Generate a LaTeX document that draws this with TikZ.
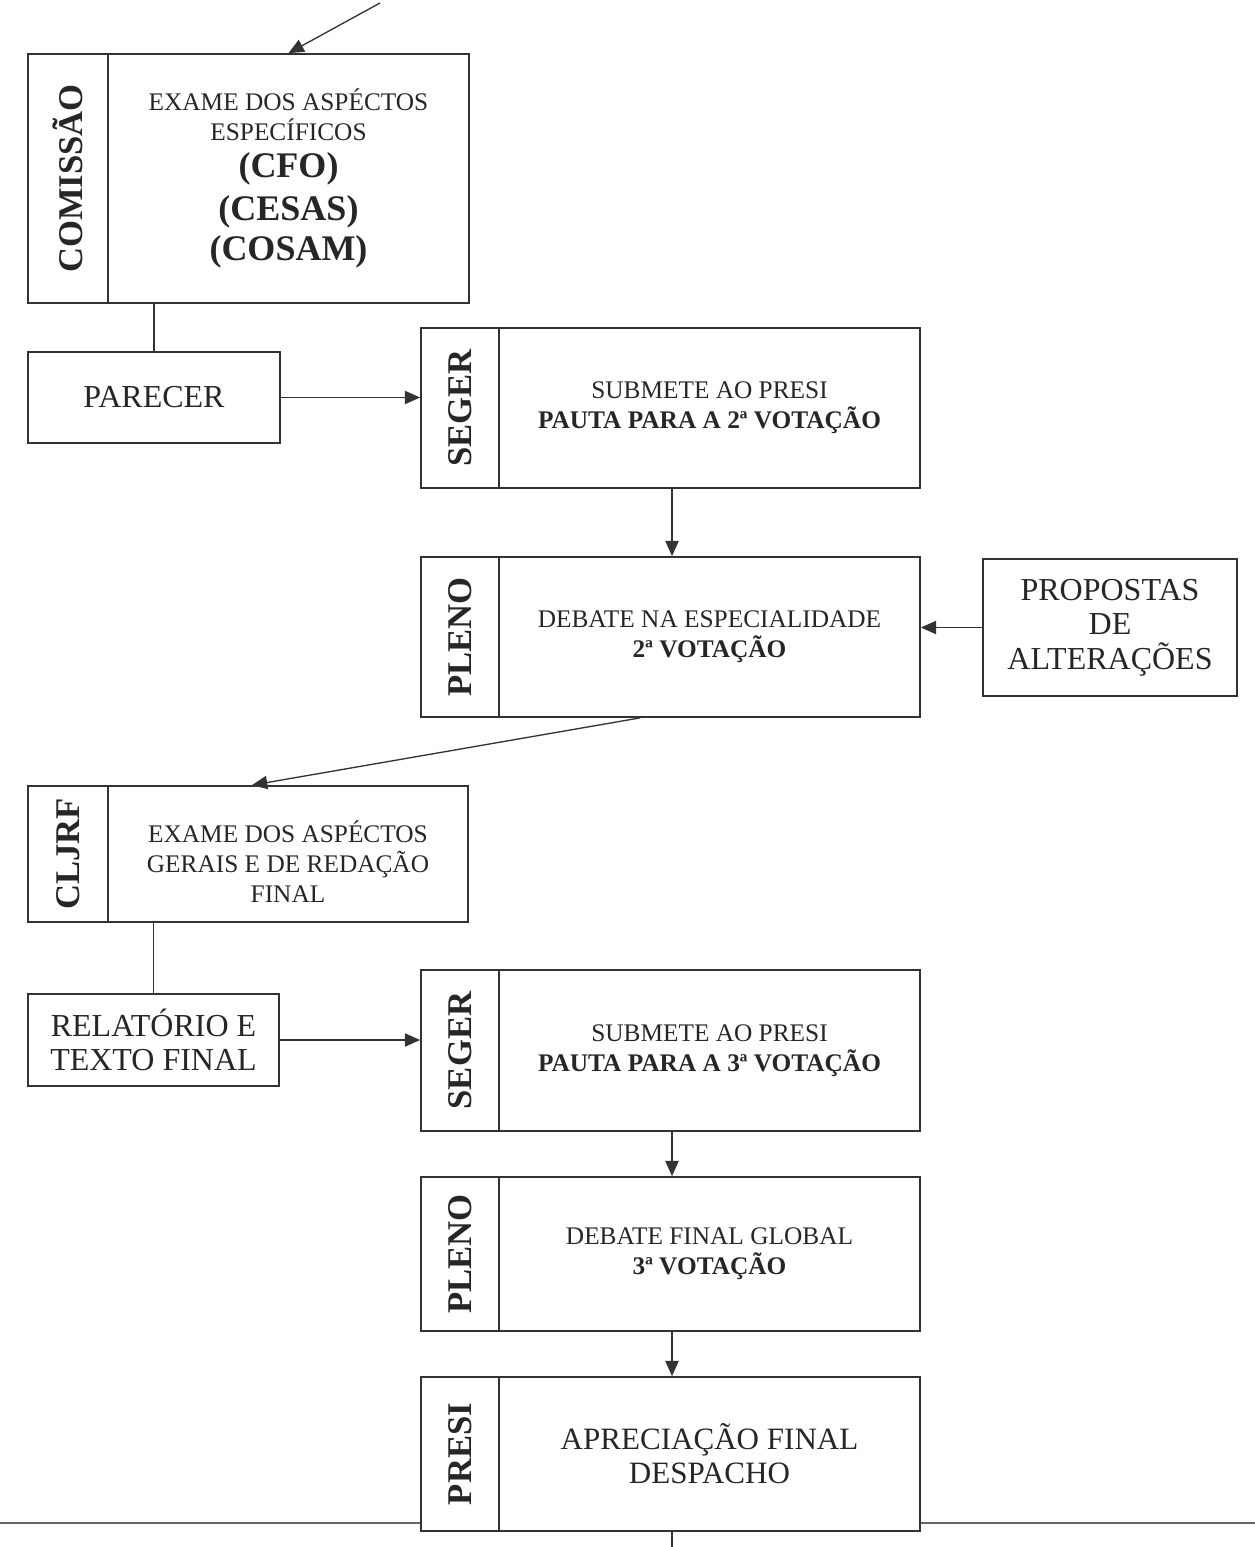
\documentclass[tikz,border=0pt]{standalone}
\usepackage{fontspec}
\setmainfont{Liberation Serif}
\usepackage{graphicx}
\usetikzlibrary{arrows.meta}

\tikzset{every picture/.style={line width=0.75pt}}
\tikzset{
  boxline/.style={draw=black!80, line width=1.3pt, inner sep=0pt, text=black!85, align=center},
  tagbox/.style={boxline, minimum width=58.5pt, font=\fontsize{26}{30}\selectfont\bfseries},
  txtbox/.style={boxline, minimum width=315.75pt, font=\fontsize{19}{22.5}\selectfont},
  bigtxt/.style={font=\fontsize{24}{26}\selectfont},
  flowarrow/.style={draw=black!80, line width=1pt, -{Triangle[length=11.5pt,width=10pt]}},
  flowline/.style={draw=black!80, line width=1pt}
}
\newcommand{\boldline}[1]{{\fontsize{27}{31}\selectfont\bfseries #1}}

\begin{document}
\begin{tikzpicture}[x=0.75pt,y=0.75pt,yscale=-1,xscale=1]
	\useasboundingbox (0,0) rectangle (1255,1547);
	\coordinate (ax) at (672,0);
	
	%Shape: Rectangle [COMISSAO]
	\node[tagbox, minimum width=60pt, minimum height=186.75pt] (comtag) at (68,178.5) {\rotatebox{90}{COMISSÃO}};
	\node[txtbox, minimum width=270.75pt, minimum height=186.75pt] (com) at (288.5,178.5) {EXAME DOS ASPÉCTOS\\ESPECÍFICOS\\[5.5pt]\boldline{(CFO)}\\[6.2pt]\boldline{(CESAS)}\\[4.7pt]\boldline{(COSAM)}};
	%Shape: Rectangle [PARECER]
	\node[boxline, bigtxt, minimum width=189pt, minimum height=68.25pt] (par) at (154,397.5) {PARECER};
	%Shape: Rectangle [SEGER 2a]
	\node[tagbox, minimum height=120pt] (seg1tag) at (460,408) {\rotatebox{90}{SEGER}};
	\node[txtbox, minimum height=120pt] (seg1) at (709.5,408) {SUBMETE AO PRESI\\\textbf{PAUTA PARA A 2ª VOTAÇÃO}};
	%Shape: Rectangle [PLENO 2a]
	\node[tagbox, minimum height=120pt] (plen1tag) at (460,637) {\rotatebox{90}{PLENO}};
	\node[txtbox, minimum height=120pt] (plen1) at (709.5,637) {DEBATE NA ESPECIALIDADE\\\textbf{2ª VOTAÇÃO}};
	%Shape: Rectangle [PROPOSTAS]
	\node[boxline, bigtxt, minimum width=190.5pt, minimum height=102.75pt] (prop) at (1110,627.5) {PROPOSTAS\\DE\\ALTERAÇÕES};
	%Shape: Rectangle [CLJRF]
	\node[tagbox, minimum width=60pt, minimum height=102pt] (cljtag) at (68,854) {\rotatebox{90}{CLJRF}};
	\node[txtbox, minimum width=270pt, minimum height=102pt] (clj) at (288,854) {\rule{0pt}{28pt}EXAME DOS ASPÉCTOS\\GERAIS E DE REDAÇÃO\\FINAL};
	%Shape: Rectangle [RELATORIO]
	\node[boxline, bigtxt, minimum width=188.25pt, minimum height=69pt] (rel) at (153.5,1040) {RELATÓRIO E\\TEXTO FINAL};
	%Shape: Rectangle [SEGER 3a]
	\node[tagbox, minimum height=120.75pt] (seg2tag) at (460,1050.5) {\rotatebox{90}{SEGER}};
	\node[txtbox, minimum height=120.75pt] (seg2) at (709.5,1050.5) {SUBMETE AO PRESI\\\textbf{PAUTA PARA A 3ª VOTAÇÃO}};
	%Shape: Rectangle [PLENO 3a]
	\node[tagbox, minimum height=115.5pt] (plen2tag) at (460,1254) {\rotatebox{90}{PLENO}};
	\node[txtbox, minimum height=115.5pt] (plen2) at (709.5,1254) {DEBATE FINAL GLOBAL\\\textbf{3ª VOTAÇÃO}};
	%Shape: Rectangle [PRESI]
	\node[tagbox, minimum height=115.5pt] (presitag) at (460,1454) {\rotatebox{90}{PRESI}};
	\node[txtbox, font=\fontsize{23.3}{25.5}\selectfont, minimum height=115.5pt] (presi) at (709.5,1454) {APRECIAÇÃO FINAL\\DESPACHO};
	
	%Straight Lines
	\coordinate (src) at (380,3);
	\draw[flowarrow] (src) -- (com.north);
	\draw[flowline] (com.south -| par) -- (par.north);
	\draw[flowarrow] (par.east) -- (par.east -| seg1tag.west);
	\draw[flowarrow] (seg1.south -| ax) -- (plen1.north -| ax);
	\draw[flowarrow] (prop.west) -- (prop.west -| plen1.east);
	\draw[flowarrow] ([xshift=-52pt]plen1.south) -- ([xshift=-27pt]clj.north);
	\draw[flowline] (clj.south -| rel) -- (rel.north);
	\draw[flowarrow] (rel.east) -- (rel.east -| seg2tag.west);
	\draw[flowarrow] (seg2.south -| ax) -- (plen2.north -| ax);
	\draw[flowarrow] (plen2.south -| ax) -- (presi.north -| ax);
	
	% page rule and exit line
	\coordinate (hlL) at (0,1523);
	\coordinate (hlR) at (1255,1523);
	\coordinate (bot) at (672,1547);
	\draw[flowline, draw=black!60] (hlL) -- (hlL -| presitag.west);
	\draw[flowline, draw=black!60] (presi.east |- hlR) -- (hlR);
	\draw[flowline] (presi.south -| bot) -- (bot);
	
\end{tikzpicture}
\end{document}
